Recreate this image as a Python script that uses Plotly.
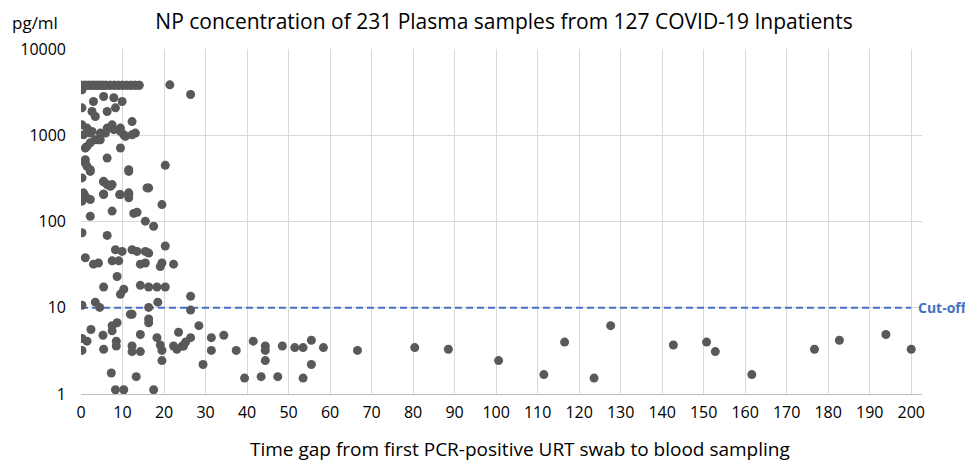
import plotly.graph_objects as go

# Top row (values at the upper measurement limit ~3800 pg/ml)
top_days = [0, 1, 2, 3, 4, 5, 6, 7, 8, 9, 10, 11, 12, 13, 14,
            0, 1, 2, 3, 4, 5, 6, 7, 8, 9, 10, 11, 12, 13, 14,
            0.5, 1.5, 2.5, 3.5, 4.5, 5.5]
top_vals = [3800] * len(top_days)

other_days = [21.4, 26.4,
    0.24, 3.0, 5.45, 7.9, 9.9, 0.24, 2.65, 3.45, 6.3, 8.3, 0.24, 1.45, 2.65, 4.65, 6.3, 7.5, 9.5, 10.3, 12.3, 13.1,
    0.6, 2.24, 5.9, 7.9, 9.5, 10.7, 12.3,
    2.24, 1.04, 4.2, 9.5, 1.45, 3.45, 4.65, 6.3, 1.04, 1.45, 2.24, 1.04, 2.24, 11.5, 11.5, 20.3, 0.24, 5.45, 5.45,
    6.3, 7.1, 7.5, 16.3, 15.9, 0.6, 1.04, 5.45, 5.45, 9.3, 9.5, 11.5, 11.5, 11.5, 0.24, 2.24, 19.5, 2.24, 7.5, 12.7,
    13.5, 15.5, 17.5, 0.24, 6.3, 8.3, 9.9, 12.3, 13.5, 15.5, 16.3, 20.3, 1.04, 3.0, 4.2, 7.5, 9.1, 14.3, 15.5, 19.1,
    19.5, 22.3, 8.7, 5.45, 9.5, 10.3, 14.3, 16.3, 18.3, 20.3, 26.4, 0.24, 3.45, 4.5, 16.3, 18.5, 26.4, 16.3,
    11.9, 12.3, 8.7, 7.5, 7.5, 16.3, 2.4, 5.3, 14.3, 0.24, 1.45, 0.24, 5.45, 8.5, 8.5, 12.3, 12.3, 14.3, 18.3, 19.1,
    19.5, 19.5, 22.3, 23.1, 23.5, 24.4, 24.7, 25.2, 26.4, 28.4, 29.4, 31.4, 31.4, 34.4, 37.4, 39.4, 41.5, 44.4, 44.4,
    44.4, 43.4, 47.4, 48.5, 51.5, 53.5, 55.5, 55.5, 53.5, 7.3, 13.3, 8.3, 10.3, 17.5, 58.4, 66.6, 80.4, 88.5, 100.6,
    111.5, 116.5, 123.6, 127.6, 142.7, 150.7, 152.8, 161.6, 176.7, 182.7, 193.9, 200]
other_vals = [3840, 2970,
    3360, 2460, 2810, 2720, 2460, 2080, 1885, 1650, 1885, 2080, 1320, 1210, 1107, 1060, 1210, 1320, 1210, 1013, 1440, 1060,
    1013, 1060, 1060, 1160, 1107, 970, 1013,
    819, 711, 887, 711, 742, 887, 887, 545, 521, 436, 381, 477, 399, 381, 399, 448, 320, 292, 288,
    268, 256, 268, 245, 245, 215, 196, 209, 205, 205, 205, 215, 205, 188, 172, 180, 157, 115, 132, 124,
    128, 101, 88, 74, 69, 47, 45, 47, 45, 45, 43, 52, 38, 32, 33, 35, 35, 32, 33, 30,
    33, 32, 23, 17.4, 14.3, 16.4, 18.2, 17.4, 17.4, 17.4, 13.6, 10.7, 11.6, 10.1, 10.1, 11.6, 9.4, 7.4,
    8.4, 8.4, 6.7, 6.2, 5.4, 6.7, 5.6, 4.8, 4.9, 4.4, 4.1, 3.2, 3.3, 4.1, 3.6, 3.6, 3.1, 3.1, 4.5, 3.7,
    3.2, 2.44, 3.6, 3.3, 5.2, 3.6, 3.6, 4.0, 4.5, 6.2, 2.2, 4.5, 3.2, 4.8, 3.2, 1.53, 4.1, 3.6, 3.2,
    2.44, 1.59, 1.59, 3.6, 3.45, 3.45, 4.2, 2.2, 1.53, 1.75, 1.59, 1.12, 1.12, 1.12, 3.45, 3.2, 3.45, 3.3, 2.44,
    1.68, 4.0, 1.53, 6.2, 3.7, 4.0, 3.1, 1.68, 3.3, 4.2, 4.9, 3.3]

days = top_days + other_days
vals = top_vals + other_vals

cutoff_x = [0, 200]
cutoff_y = [10, 10]

x_ticks = list(range(0, 201, 10))
y_ticks = [1, 10, 100, 1000, 10000]

FONT = "Open Sans"

fig = go.Figure()
fig.add_trace(go.Scatter(
    x=cutoff_x, y=cutoff_y, mode="lines",
    line=dict(color="#4472C4", width=2, dash="7px,4px"),
    hoverinfo="skip", showlegend=False))
fig.add_trace(go.Scatter(
    x=days, y=vals, mode="markers",
    marker=dict(color="#595959", size=9, line=dict(width=0)),
    showlegend=False))

fig.update_layout(
    width=965, height=453,
    margin=dict(l=73, r=51, t=41, b=67, autoexpand=False),
    paper_bgcolor="white", plot_bgcolor="white",
    font=dict(family=FONT, color="#000000"),
    title=dict(text="NP concentration of 231 Plasma samples from 127 COVID-19 Inpatients",
               x=0.514, xanchor="center", y=0.97, yanchor="middle",
               font=dict(size=21, family=FONT, color="#000000")),
    xaxis=dict(range=[0, 202.6], tickvals=x_ticks, ticktext=[str(t) for t in x_ticks],
               showgrid=True, gridcolor="#d9d9d9", gridwidth=1,
               showline=True, linecolor="#bfbfbf", linewidth=1,
               zeroline=False, ticks="", tickfont=dict(size=16, family=FONT),
               ticklabelstandoff=4),
    yaxis=dict(type="log", range=[0, 4], tickvals=y_ticks, ticktext=[str(t) for t in y_ticks],
               showgrid=True, gridcolor="#d9d9d9", gridwidth=1,
               showline=False, zeroline=False, ticks="",
               tickfont=dict(size=16, family=FONT), ticklabelstandoff=14),
    annotations=[
        dict(text="Time gap from first PCR-positive URT swab to blood sampling",
             xref="paper", yref="paper", x=0.522, y=-0.1606,
             xanchor="center", yanchor="middle", showarrow=False,
             font=dict(size=19, family=FONT, color="#000000")),
        dict(text="pg/ml", xref="paper", yref="paper", x=-0.084, y=1.078,
             xanchor="left", yanchor="middle", showarrow=False,
             font=dict(size=17, family=FONT, color="#000000")),
        dict(text="<b>Cut-off</b>", xref="paper", yref="y", x=1.0, y=1,
             xanchor="left", yanchor="middle", showarrow=False, xshift=-6,
             font=dict(size=14, family=FONT, color="#4472C4")),
    ],
)

fig.write_html("out.html")
